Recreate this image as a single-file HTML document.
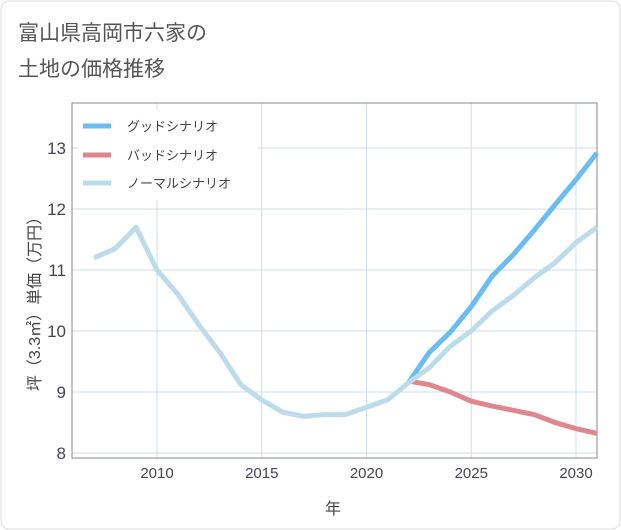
<!DOCTYPE html>
<html><head><meta charset="utf-8"><style>
body{margin:0;background:#fff;}
svg{display:block;font-family:"Liberation Sans","Noto Sans CJK JP",sans-serif;}
</style></head><body>
<svg id="c" width="621" height="530">
<rect x="1" y="1" width="619" height="528" rx="8" fill="#fff" stroke="#ddd"/>
<text x="18" y="40" font-size="21" fill="#555">富山県高岡市六家の</text>
<text x="18" y="76" font-size="21" fill="#555">土地の価格推移</text>
<g id="grid"></g>
<rect x="72" y="103" width="525" height="355" fill="none" stroke="#888"/>
<g id="ticks"></g>
<g id="lines"></g>
<rect x="78" y="110" width="180" height="90" fill="#fff"/>
<g>
<line x1="83" y1="126" x2="111" y2="126" stroke="#6bbcf2" stroke-width="5"/>
<text x="127" y="131" font-size="13" fill="#444">グッドシナリオ</text>
<line x1="83" y1="155" x2="111" y2="155" stroke="#e0868f" stroke-width="5"/>
<text x="127" y="160" font-size="13" fill="#444">バッドシナリオ</text>
<line x1="83" y1="183" x2="111" y2="183" stroke="#bcdcec" stroke-width="5"/>
<text x="127" y="188" font-size="13" fill="#444">ノーマルシナリオ</text>
</g>
<text x="333" y="514" font-size="16" fill="#444" text-anchor="middle">年</text>
<text transform="translate(40,300) rotate(-90)" font-size="16" fill="#444" text-anchor="middle">坪（3.3㎡）単価（万円）</text>
</svg>
<script>
const years=[2007,2008,2009,2010,2011,2012,2013,2014,2015,2016,2017,2018,2019,2020,2021,2022,2023,2024,2025,2026,2027,2028,2029,2030,2031];
const normal=[11.2,11.35,11.7,11.0,10.6,10.1,9.65,9.12,8.87,8.67,8.6,8.63,8.63,8.75,8.87,9.15,9.4,9.75,10.0,10.33,10.58,10.87,11.12,11.45,11.7];
const futureYears=[2022,2023,2024,2025,2026,2027,2028,2029,2030,2031];
const good=[9.15,9.65,9.98,10.4,10.9,11.25,11.65,12.07,12.48,12.92];
const bad=[9.18,9.12,9.0,8.85,8.77,8.7,8.63,8.5,8.4,8.32];
const xTicks=[2010,2015,2020,2025,2030];
const yTicks=[8,9,10,11,12,13];
const NS='http://www.w3.org/2000/svg';
const X=v=>157+(v-2010)*20.95;
const Y=v=>453-(v-8)*61;
const grid=document.getElementById('grid'),ticks=document.getElementById('ticks'),lines=document.getElementById('lines');
function mk(t,a,p){const e=document.createElementNS(NS,t);for(const k in a)e.setAttribute(k,a[k]);p.appendChild(e);return e;}
xTicks.forEach(t=>{
 const l=mk('line',{x1:X(t),x2:X(t),y1:103,y2:458,stroke:'#cfdde8'},grid);
 
 
 const s=mk('text',{x:X(t),y:478,'font-size':15,fill:'#445','text-anchor':'middle'},ticks);
 s.textContent=t;
 
 
});
yTicks.forEach(t=>{
 const l=mk('line',{x1:72,x2:597,y1:Y(t),y2:Y(t),stroke:'#cfdde8'},grid);
 
 
 const s=mk('text',{x:66,y:Y(t)+6,'font-size':17,fill:'#445','text-anchor':'end'},ticks);
 s.textContent=t;
 
 
});
function line(xs,vs,color,name){
 const p=mk('polyline',{points:xs.map((x,i)=>X(x)+','+Y(vs[i])).join(' '),fill:'none',stroke:color,'stroke-width':5,'stroke-linejoin':'round'},lines);
 
 
}
line(futureYears,bad,'#e0868f','bad-scenario-line');
line(futureYears,good,'#6bbcf2','good-scenario-line');
line(years,normal,'#bcdcec','normal-scenario-line');
</script>
</body></html>
